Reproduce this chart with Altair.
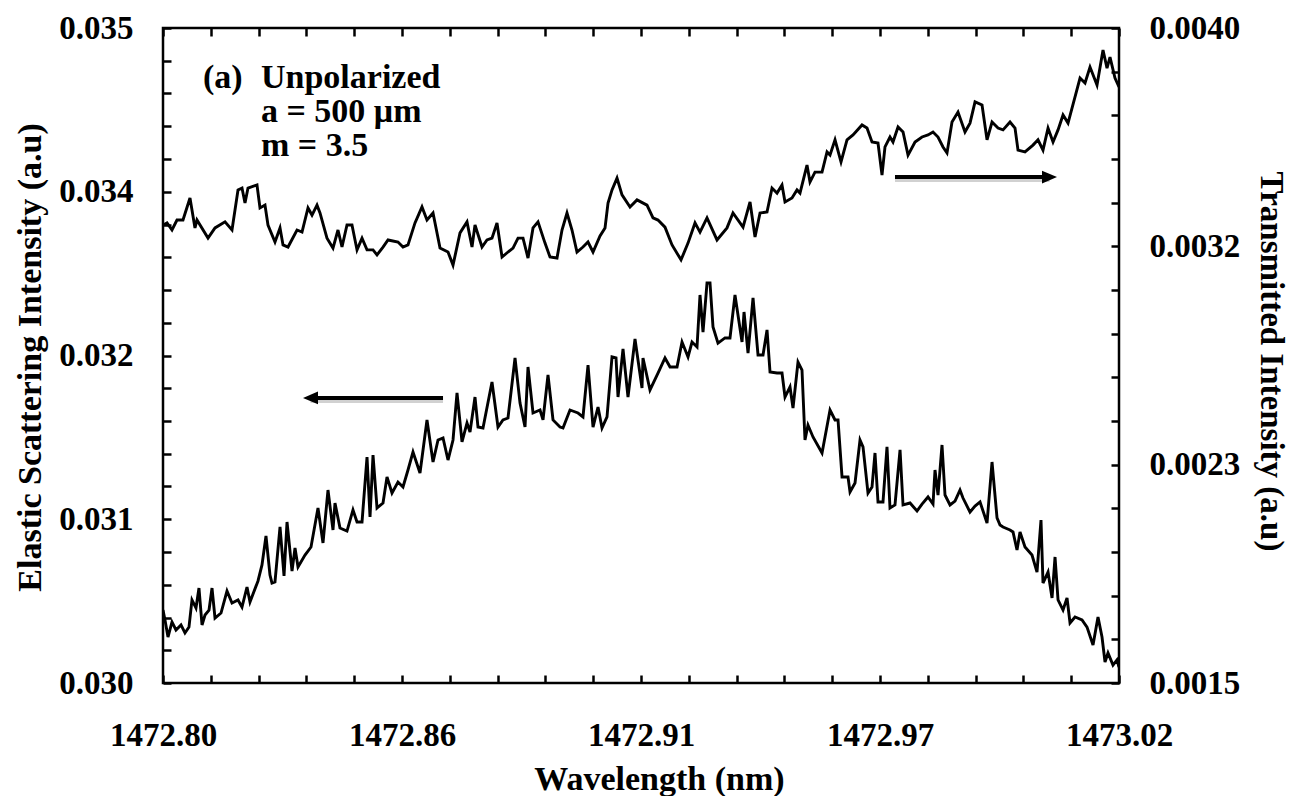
import altair as alt
import pandas as pd

FONT = "Liberation Serif"

# ---------------- data ----------------
# Transmitted intensity (right axis)
trans_wl = [1472.80000, 1472.80092, 1472.80207, 1472.80322, 1472.80460, 1472.80621, 1472.80736, 1472.80782,
            1472.81036, 1472.81197, 1472.81427, 1472.81588, 1472.81726, 1472.81818, 1472.81887, 1472.81956,
            1472.82163, 1472.82232, 1472.82347, 1472.82416, 1472.82577, 1472.82693, 1472.82762, 1472.82877,
            1472.83084, 1472.83199, 1472.83337, 1472.83429, 1472.83544, 1472.83613, 1472.83774, 1472.83912,
            1472.84027, 1472.84119, 1472.84234, 1472.84349, 1472.84465, 1472.84580, 1472.84695, 1472.84833,
            1472.84925, 1472.85063, 1472.85178, 1472.85408, 1472.85523, 1472.85638, 1472.85799, 1472.85960,
            1472.86075, 1472.86214, 1472.86375, 1472.86559, 1472.86674, 1472.86835, 1472.86996, 1472.87111,
            1472.87180, 1472.87341, 1472.87456, 1472.87571, 1472.87686, 1472.87802, 1472.87939, 1472.88055,
            1472.88170, 1472.88285, 1472.88400, 1472.88515, 1472.88630, 1472.88791, 1472.88906, 1472.89067,
            1472.89182, 1472.89297, 1472.89412, 1472.89527, 1472.89665, 1472.89780, 1472.89896, 1472.90057,
            1472.90172, 1472.90241, 1472.90333, 1472.90448, 1472.90563, 1472.90747, 1472.90908, 1472.91138,
            1472.91276, 1472.91391, 1472.91552, 1472.91714, 1472.91921, 1472.92082, 1472.92243, 1472.92358,
            1472.92519, 1472.92749, 1472.92979, 1472.93117, 1472.93348, 1472.93509, 1472.93624, 1472.93739,
            1472.93900, 1472.94015, 1472.94130, 1472.94245, 1472.94314, 1472.94475, 1472.94590, 1472.94659,
            1472.94820, 1472.94889, 1472.95004, 1472.95166, 1472.95281, 1472.95350, 1472.95465, 1472.95603,
            1472.95741, 1472.95879, 1472.96086, 1472.96201, 1472.96316, 1472.96454, 1472.96546, 1472.96615,
            1472.96730, 1472.96799, 1472.96915, 1472.97030, 1472.97145, 1472.97306, 1472.97467, 1472.97605,
            1472.97720, 1472.97835, 1472.97950, 1472.98042, 1472.98157, 1472.98295, 1472.98456, 1472.98571,
            1472.98687, 1472.98848, 1472.98963, 1472.99078, 1472.99216, 1472.99331, 1472.99492, 1472.99607,
            1472.99676, 1472.99837, 1473.00021, 1473.00136, 1473.00251, 1473.00367, 1473.00482, 1473.00597,
            1473.00712, 1473.00827, 1473.00988, 1473.01103, 1473.01218, 1473.01333, 1473.01494, 1473.01632,
            1473.01724, 1473.01793, 1473.01908, 1473.02000]
trans_val = [0.003248, 0.003256, 0.003229, 0.003267, 0.003267, 0.003351, 0.003237, 0.003267,
             0.003198, 0.003237, 0.003260, 0.003229, 0.003382, 0.003389, 0.003332, 0.003389,
             0.003401, 0.003313, 0.003324, 0.003248, 0.003183, 0.003237, 0.003172, 0.003164,
             0.003229, 0.003221, 0.003313, 0.003286, 0.003324, 0.003294, 0.003198, 0.003160,
             0.003229, 0.003164, 0.003248, 0.003248, 0.003153, 0.003198, 0.003153, 0.003153,
             0.003134, 0.003164, 0.003191, 0.003183, 0.003164, 0.003172, 0.003256, 0.003317,
             0.003267, 0.003294, 0.003160, 0.003145, 0.003095, 0.003218, 0.003260, 0.003164,
             0.003248, 0.003164, 0.003191, 0.003198, 0.003256, 0.003126, 0.003145, 0.003160,
             0.003198, 0.003198, 0.003122, 0.003237, 0.003260, 0.003179, 0.003126, 0.003122,
             0.003229, 0.003294, 0.003229, 0.003145, 0.003164, 0.003183, 0.003145, 0.003206,
             0.003237, 0.003332, 0.003382, 0.003427, 0.003363, 0.003317, 0.003344, 0.003324,
             0.003275, 0.003267, 0.003240, 0.003172, 0.003115, 0.003179, 0.003256, 0.003221,
             0.003275, 0.003191, 0.003237, 0.003294, 0.003240, 0.003336, 0.003202, 0.003294,
             0.003298, 0.003389, 0.003370, 0.003401, 0.003336, 0.003351, 0.003382, 0.003370,
             0.003477, 0.003412, 0.003450, 0.003450, 0.003527, 0.003515, 0.003573, 0.003489,
             0.003573, 0.003592, 0.003630, 0.003618, 0.003565, 0.003561, 0.003439, 0.003546,
             0.003584, 0.003565, 0.003622, 0.003603, 0.003515, 0.003565, 0.003584, 0.003592,
             0.003603, 0.003584, 0.003546, 0.003523, 0.003641, 0.003679, 0.003603, 0.003637,
             0.003718, 0.003706, 0.003573, 0.003641, 0.003618, 0.003611, 0.003641, 0.003618,
             0.003534, 0.003527, 0.003553, 0.003573, 0.003534, 0.003618, 0.003565, 0.003611,
             0.003668, 0.003637, 0.003737, 0.003809, 0.003790, 0.003851, 0.003782, 0.003916,
             0.003847, 0.003889, 0.003809, 0.003775]

# Elastic scattering intensity (left axis)
scat_wl = [1472.80000, 1472.80046, 1472.80115, 1472.80207, 1472.80299, 1472.80414, 1472.80506, 1472.80598,
           1472.80667, 1472.80759, 1472.80828, 1472.80898, 1472.80967, 1472.81059, 1472.81128, 1472.81197,
           1472.81335, 1472.81473, 1472.81588, 1472.81726, 1472.81818, 1472.81933, 1472.82002, 1472.82186,
           1472.82278, 1472.82370, 1472.82462, 1472.82508, 1472.82577, 1472.82693, 1472.82785, 1472.82854,
           1472.82969, 1472.83038, 1472.83107, 1472.83268, 1472.83406, 1472.83567, 1472.83682, 1472.83797,
           1472.83912, 1472.83958, 1472.84073, 1472.84234, 1472.84372, 1472.84465, 1472.84580, 1472.84695,
           1472.84764, 1472.84833, 1472.84925, 1472.85063, 1472.85155, 1472.85270, 1472.85408, 1472.85523,
           1472.85638, 1472.85753, 1472.85914, 1472.86075, 1472.86214, 1472.86329, 1472.86444, 1472.86559,
           1472.86674, 1472.86766, 1472.86881, 1472.86996, 1472.87065, 1472.87180, 1472.87249, 1472.87364,
           1472.87571, 1472.87709, 1472.87824, 1472.87939, 1472.88101, 1472.88216, 1472.88331, 1472.88400,
           1472.88515, 1472.88676, 1472.88745, 1472.88860, 1472.88975, 1472.89136, 1472.89205, 1472.89366,
           1472.89550, 1472.89665, 1472.89781, 1472.89896, 1472.90011, 1472.90103, 1472.90218, 1472.90333,
           1472.90425, 1472.90471, 1472.90586, 1472.90701, 1472.90862, 1472.91023, 1472.91046, 1472.91207,
           1472.91391, 1472.91552, 1472.91668, 1472.91829, 1472.91944, 1472.92082, 1472.92174, 1472.92289,
           1472.92358, 1472.92427, 1472.92519, 1472.92588, 1472.92657, 1472.92772, 1472.92933, 1472.93048,
           1472.93163, 1472.93325, 1472.93371, 1472.93463, 1472.93578, 1472.93693, 1472.93808, 1472.93900,
           1472.93969, 1472.94130, 1472.94245, 1472.94314, 1472.94429, 1472.94498, 1472.94613, 1472.94705,
           1472.94774, 1472.94843, 1472.94958, 1472.95166, 1472.95350, 1472.95465, 1472.95534, 1472.95626,
           1472.95764, 1472.95810, 1472.95925, 1472.96040, 1472.96109, 1472.96224, 1472.96316, 1472.96385,
           1472.96454, 1472.96569, 1472.96661, 1472.96730, 1472.96845, 1472.96961, 1472.97030, 1472.97191,
           1472.97352, 1472.97467, 1472.97605, 1472.97720, 1472.97766, 1472.97835, 1472.97927, 1472.97996,
           1472.98111, 1472.98226, 1472.98341, 1472.98410, 1472.98571, 1472.98687, 1472.98802, 1472.98963,
           1472.99078, 1472.99193, 1472.99262, 1472.99331, 1472.99492, 1472.99561, 1472.99653, 1472.99722,
           1472.99837, 1472.99998, 1473.00113, 1473.00205, 1473.00251, 1473.00367, 1473.00459, 1473.00528,
           1473.00597, 1473.00712, 1473.00804, 1473.00873, 1473.00988, 1473.01149, 1473.01264, 1473.01402,
           1473.01517, 1473.01609, 1473.01678, 1473.01747, 1473.01862, 1473.01954, 1473.02000]
scat_val = [0.030557, 0.030481, 0.030351, 0.030466, 0.030405, 0.030443, 0.030382, 0.030427,
            0.030634, 0.030573, 0.030725, 0.030443, 0.030519, 0.030557, 0.030725, 0.030496,
            0.030534, 0.030702, 0.030611, 0.030634, 0.030580, 0.030733, 0.030618, 0.030779,
            0.030901, 0.031122, 0.030824, 0.030763, 0.030771, 0.031191, 0.030817, 0.031229,
            0.030855, 0.031031, 0.030885, 0.030977, 0.031038, 0.031336, 0.031069, 0.031473,
            0.031168, 0.031374, 0.031183, 0.031160, 0.031321, 0.031229, 0.031229, 0.031725,
            0.031267, 0.031740, 0.031336, 0.031374, 0.031573, 0.031450, 0.031534, 0.031496,
            0.031626, 0.031763, 0.031603, 0.032008, 0.031687, 0.031855, 0.031870, 0.031702,
            0.031855, 0.032214, 0.031840, 0.031985, 0.031916, 0.032183, 0.031954, 0.031947,
            0.032298, 0.031954, 0.032008, 0.032023, 0.032481, 0.032137, 0.031954, 0.032412,
            0.032061, 0.032084, 0.032008, 0.032351, 0.032008, 0.031954, 0.031947, 0.032084,
            0.032061, 0.032031, 0.032427, 0.031954, 0.032107, 0.031947, 0.032031, 0.032489,
            0.032481, 0.032183, 0.032550, 0.032183, 0.032626, 0.032252, 0.032481, 0.032237,
            0.032366, 0.032481, 0.032412, 0.032412, 0.032603, 0.032489, 0.032603, 0.032565,
            0.032962, 0.032679, 0.033053, 0.033053, 0.032718, 0.032595, 0.032634, 0.032634,
            0.032962, 0.032603, 0.032832, 0.032519, 0.032939, 0.032504, 0.032504, 0.032695,
            0.032374, 0.032366, 0.032366, 0.032183, 0.032260, 0.032099, 0.032450, 0.032389,
            0.031855, 0.031969, 0.031878, 0.031756, 0.032084, 0.032008, 0.032008, 0.031573,
            0.031573, 0.031458, 0.031527, 0.031855, 0.031802, 0.031450, 0.031496, 0.031756,
            0.031382, 0.031382, 0.031802, 0.031336, 0.031359, 0.031779, 0.031359, 0.031374,
            0.031313, 0.031366, 0.031420, 0.031366, 0.031626, 0.031435, 0.031817, 0.031435,
            0.031359, 0.031389, 0.031473, 0.031412, 0.031305, 0.031351, 0.031382, 0.031221,
            0.031687, 0.031260, 0.031206, 0.031191, 0.031168, 0.031153, 0.031015, 0.031153,
            0.031038, 0.030977, 0.030847, 0.031244, 0.030763, 0.030847, 0.030649, 0.030962,
            0.030634, 0.030557, 0.030649, 0.030458, 0.030504, 0.030481, 0.030427, 0.030290,
            0.030504, 0.030351, 0.030160, 0.030229, 0.030137, 0.030176, 0.030122]

# Axis ticks and labels (a label on every fifth tick)
x_tick_labels = ["1472.80", "1472.86", "1472.91", "1472.97", "1473.02"]
left_tick_labels = ["0.030", "0.031", "0.032", "0.034", "0.035"]
right_tick_labels = ["0.0015", "0.0023", "0.0032", "0.0040"]
x_ticks = [round(1472.80 + i * 0.011, 3) for i in range(21)]
left_ticks = [round(0.030 + i * 0.00025, 5) for i in range(21)]
right_ticks = [0.0015 + i * (0.0025 / 15) for i in range(16)]

# Annotations (in data coordinates)
panel_label = "(a)"
panel_wl = 1472.80921
info_lines = ["Unpolarized", "a = 500 \u03bcm", "m = 3.5"]
info_wl = 1472.82255
note_y = 0.034542

left_arrow = {"from": 1472.86444, "to": 1472.83394, "y": 0.032176}
right_arrow = {"from": 1472.96845, "to": 1473.00401, "y": 0.003431}

# ---------------- chart ----------------
scat_df = pd.DataFrame({"wavelength": scat_wl, "scatter": scat_val})
trans_df = pd.DataFrame({"wavelength": trans_wl, "trans": trans_val})
note_df = pd.DataFrame({"wavelength": [panel_wl, info_wl], "scatter": [note_y, note_y],
                        "label": [panel_label, "\n".join(info_lines)]})
la_df = pd.DataFrame({"wavelength": [left_arrow["from"]], "wavelength2": [left_arrow["to"]],
                      "scatter": [left_arrow["y"]]})
lah_df = pd.DataFrame({"wavelength": [left_arrow["to"]], "scatter": [left_arrow["y"]]})
ra_df = pd.DataFrame({"wavelength": [right_arrow["from"]], "wavelength2": [right_arrow["to"]],
                      "trans": [right_arrow["y"]]})
rah_df = pd.DataFrame({"wavelength": [right_arrow["to"]], "trans": [right_arrow["y"]]})

xscale = alt.Scale(domain=[1472.80, 1473.02], nice=False, zero=False)
yl_scale = alt.Scale(domain=[0.030, 0.035], nice=False, zero=False)
yr_scale = alt.Scale(domain=[0.0015, 0.0040], nice=False, zero=False)


def label_expr(idx_expr, labels):
    expr = "''"
    for k in range(len(labels) - 1, -1, -1):
        expr = f"({idx_expr} == {k * 5} ? '{labels[k]}' : {expr})"
    return expr


x_label_expr = label_expr("round((datum.value - 1472.8) / 0.011)", x_tick_labels)
left_label_expr = label_expr("round((datum.value - 0.030) / 0.00025)", left_tick_labels)
right_label_expr = label_expr("round((datum.value - 0.0015) / 0.0025 * 15)", right_tick_labels)

common = dict(tickSize=8, tickWidth=2.5, tickColor="black", offset=-8, domain=False, grid=False,
              labelOverlap=False, labelFlush=False)

x_bottom_axis = alt.Axis(orient="bottom", values=x_ticks, labelExpr=x_label_expr, labelPadding=36,
                         title="Wavelength (nm)", titleX=496, titleY=114, titleAlign="center",
                         titleBaseline="alphabetic", **common)
x_top_axis = alt.Axis(orient="top", values=x_ticks, labels=False, title="", **common)
left_axis = alt.Axis(orient="left", values=left_ticks, labelExpr=left_label_expr, labelPadding=30,
                     title="Elastic Scattering Intensity (a.u)", titleAngle=270, titleX=-131,
                     titleY=329, titleAlign="center", titleBaseline="alphabetic", **common)
right_axis = alt.Axis(orient="right", values=right_ticks, labelExpr=right_label_expr, labelPadding=30,
                      title="Transmitted Intensity (a.u)", titleAngle=90, titleX=149, titleY=333,
                      titleAlign="center", titleBaseline="alphabetic", titleFontSize=33, **common)

ARROW_LEFT = "M-1,0L1,-0.85L1,0.85Z"
ARROW_RIGHT = "M1,0L-1,-0.85L-1,0.85Z"

xs = alt.X("wavelength:Q", scale=xscale, axis=None)
yl = alt.Y("scatter:Q", scale=yl_scale, axis=None)
yr = alt.Y("trans:Q", scale=yr_scale, axis=None)

scat_line = alt.Chart(scat_df).mark_line(color="black", strokeWidth=2.9, clip=True).encode(
    x=alt.X("wavelength:Q", scale=xscale, axis=x_bottom_axis),
    y=alt.Y("scatter:Q", scale=yl_scale, axis=left_axis),
)
trans_line = alt.Chart(trans_df).mark_line(color="black", strokeWidth=2.9, clip=True).encode(
    x=alt.X("wavelength:Q", scale=xscale, axis=x_top_axis),
    y=alt.Y("trans:Q", scale=yr_scale, axis=right_axis),
)
la_shadow = alt.Chart(la_df).mark_rule(color="#999999", opacity=0.45, strokeWidth=4, yOffset=3).encode(
    x=xs, x2="wavelength2:Q", y=yl)
la_shaft = alt.Chart(la_df).mark_rule(color="black", strokeWidth=4).encode(x=xs, x2="wavelength2:Q", y=yl)
la_head = alt.Chart(lah_df).mark_point(shape=ARROW_LEFT, size=225, filled=True, color="black",
                                        opacity=1, strokeWidth=0).encode(x=xs, y=yl)
ra_shadow = alt.Chart(ra_df).mark_rule(color="#999999", opacity=0.45, strokeWidth=4, yOffset=3).encode(
    x=xs, x2="wavelength2:Q", y=yr)
ra_shaft = alt.Chart(ra_df).mark_rule(color="black", strokeWidth=4).encode(x=xs, x2="wavelength2:Q", y=yr)
ra_head = alt.Chart(rah_df).mark_point(shape=ARROW_RIGHT, size=225, filled=True, color="black",
                                        opacity=1, strokeWidth=0).encode(x=xs, y=yr)
notes = alt.Chart(note_df).mark_text(align="left", baseline="alphabetic", font=FONT, fontWeight="bold",
                                     fontSize=34, lineHeight=34, lineBreak="\n", color="black").encode(
    x=xs, y=yl, text="label:N")

chart = (
    alt.layer(scat_line, trans_line, la_shadow, la_shaft, la_head, ra_shadow, ra_shaft, ra_head, notes)
    .resolve_scale(y="independent")
    .resolve_axis(x="independent", y="independent")
    .properties(
        width=956, height=655,
        padding={"left": 163, "top": 28, "right": 171, "bottom": 113},
        autosize=alt.AutoSizeParams(type="none"),
        background="white",
    )
    .configure_view(stroke="black", strokeWidth=2.5)
    .configure_axis(
        labelFont=FONT, labelFontSize=33, labelFontWeight="bold", labelColor="black",
        titleFont=FONT, titleFontSize=34, titleFontWeight="bold", titleColor="black",
    )
)

chart.save("out.html", embed_options={"renderer": "svg", "actions": False})
